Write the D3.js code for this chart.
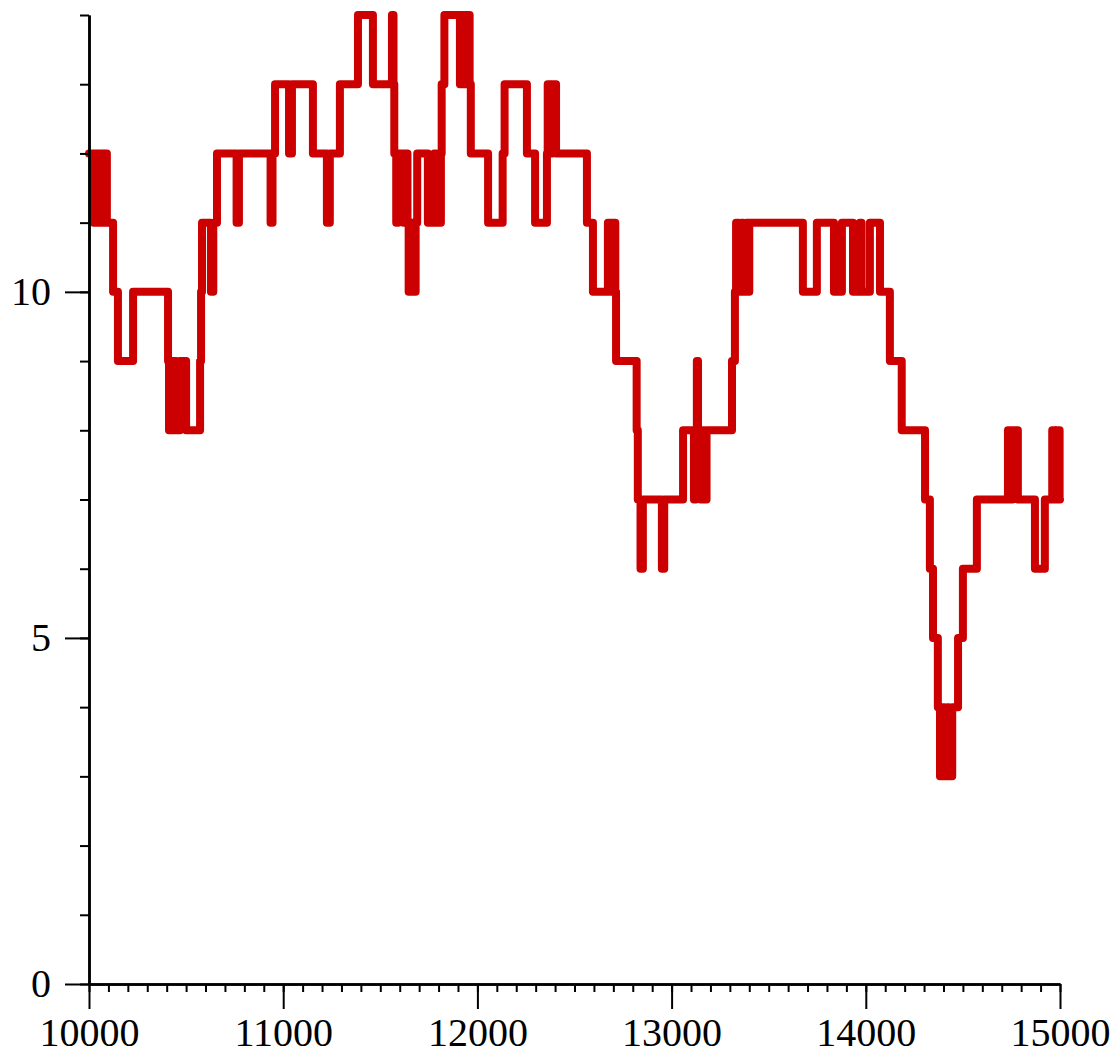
<!DOCTYPE html>
<html>
<head>
<meta charset="utf-8">
<script src="https://cdn.jsdelivr.net/npm/d3@7"></script>
<style>
  html, body { margin: 0; padding: 0; background: #fff; }
  svg { display: block; }
  .axis text { font-family: "Liberation Serif", "Times New Roman", serif; font-size: 40px; fill: #000; }
</style>
</head>
<body>
<svg id="chart" width="1120" height="1056"></svg>
<script>
// Step changes: stepX[i] is where the walk moves to stepY[i]
const stepX = [
  10000,
  10024, 10032, 10050, 10058, 10074, 10082, 10092,
  10124, 10149, 10227, 10407,
  10412, 10422, 10430, 10440, 10448, 10468, 10500,
  10572, 10577, 10582, 10628, 10640, 10659,
  10760, 10772, 10935, 10945, 10958,
  11030, 11045, 11153, 11225, 11240, 11292, 11385, 11462,
  11560, 11568, 11572,
  11582, 11592, 11620, 11630, 11640, 11646, 11662, 11668, 11682, 11690,
  11745, 11778, 11786, 11812, 11816, 11830,
  11910, 11920, 11935, 11942, 11960, 11966,
  12055, 12130, 12140, 12255, 12297,
  12358, 12362, 12378, 12386, 12405,
  12564, 12595, 12672, 12690, 12700, 12710, 12714,
  12820, 12826, 12840, 12852, 12950, 12962,
  13059, 13115, 13125, 13130, 13136, 13150, 13162, 13168, 13180,
  13311, 13326, 13332, 13345, 13360, 13368, 13385, 13392, 13400,
  13676, 13748, 13836, 13877, 13934, 13970, 13978, 14021, 14073, 14124, 14185, 14305, 14330, 14346, 14371,
  14382, 14395, 14405, 14420, 14428, 14445,
  14475, 14500, 14572,
  14732, 14745, 14755, 14783,
  14871, 14922,
  14960, 14975, 14980, 14998, 15000
];
const stepY = [
  12,
  11, 12, 11, 12, 11, 12, 11,
  10, 9, 10, 9,
  8, 9, 8, 9, 8, 9, 8,
  9, 10, 11, 10, 11, 12,
  11, 12, 11, 12, 13,
  12, 13, 12, 11, 12, 13, 14, 13,
  14, 13, 12,
  11, 12, 11, 12, 11, 10, 11, 10, 11, 12,
  11, 12, 11, 12, 13, 14,
  13, 14, 13, 14, 13, 12,
  11, 12, 13, 12, 11,
  12, 13, 12, 13, 12,
  11, 10, 11, 10, 11, 10, 9,
  8, 7, 6, 7, 6, 7,
  8, 7, 8, 9, 8, 7, 8, 7, 8,
  9, 10, 11, 10, 11, 10, 11, 10, 11,
  10, 11, 10, 11, 10, 11, 10, 11, 10, 9, 8, 7, 6, 5, 4,
  3, 4, 3, 4, 3, 4,
  5, 6, 7,
  8, 7, 8, 7,
  6, 7,
  8, 7, 8, 7, 7
];
const xMajorTicks = [10000, 11000, 12000, 13000, 14000, 15000];
const xMinorTicks = d3.range(10000, 15001, 100);
const yMajorTicks = [0, 5, 10];
const yMinorTicks = d3.range(0, 15, 1);

const svg = d3.select("#chart");
const x = d3.scaleLinear().domain([10000, 15000]).range([89, 1060]);
const y = d3.scaleLinear().domain([0, 14]).range([984, 15]);

const data = stepX.map((v, i) => ({ x: v, y: stepY[i] }));

// line
svg.append("path")
  .datum(data)
  .attr("fill", "none")
  .attr("stroke", "#CC0000")
  .attr("stroke-width", 8)
  .attr("stroke-linejoin", "round")
  .attr("stroke-linecap", "round")
  .attr("d", d3.line().x(d => x(d.x)).y(d => y(d.y)).curve(d3.curveStepAfter));

// x axis minor
svg.append("g").attr("class", "axis").attr("transform", `translate(0,${y(0)})`)
  .call(d3.axisBottom(x).tickValues(xMinorTicks).tickSize(8).tickSizeOuter(0).tickFormat(""));
// x axis major
svg.append("g").attr("class", "axis").attr("transform", `translate(0,${y(0)})`)
  .call(d3.axisBottom(x).tickValues(xMajorTicks).tickSize(25).tickSizeOuter(0).tickPadding(9).tickFormat(d3.format("d")));

// y axis minor
svg.append("g").attr("class", "axis").attr("transform", `translate(${x(10000)},0)`)
  .call(d3.axisLeft(y).tickValues(yMinorTicks).tickSize(9).tickSizeOuter(0).tickFormat(""));
// y axis major
svg.append("g").attr("class", "axis").attr("transform", `translate(${x(10000)},0)`)
  .call(d3.axisLeft(y).tickValues(yMajorTicks).tickSize(24).tickSizeOuter(0).tickPadding(14).tickFormat(d3.format("d")));

svg.selectAll(".axis path.domain").attr("stroke", "#000").attr("stroke-width", 2.5);
svg.selectAll(".axis .tick line").attr("stroke", "#000").attr("stroke-width", 2);
</script>
</body>
</html>
